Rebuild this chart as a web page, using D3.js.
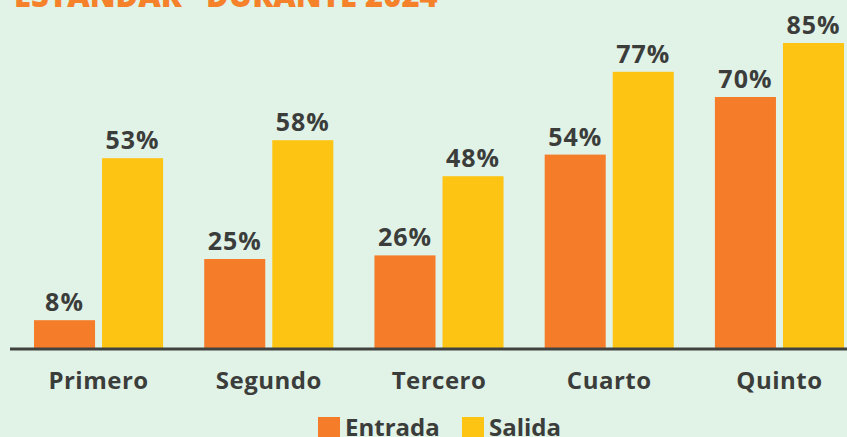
<!DOCTYPE html>
<html>
<head>
<meta charset="utf-8">
<script src="https://cdn.jsdelivr.net/npm/d3@7"></script>
<style>
  html, body { margin: 0; padding: 0; background: #E1F2E7; }
  svg { display: block; }
  text { font-family: "Open Sans", sans-serif; font-weight: 700; }
</style>
</head>
<body>
<svg id="chart" width="847" height="437"></svg>
<script>
const titleText = 'ESTÁNDAR" DURANTE 2024';
const categories = ["Primero", "Segundo", "Tercero", "Cuarto", "Quinto"];
const seriesNames = ["Entrada", "Salida"];
const entrada = [8, 25, 26, 54, 70];
const salida = [53, 58, 48, 77, 85];
const seriesColors = ["#F57C29", "#FDC414"];

const W = 847, H = 437;
const svg = d3.select("#chart");
svg.append("rect").attr("width", W).attr("height", H).attr("fill", "#E1F2E7");

const baseY = 349;
const x0 = d3.scaleBand().domain(categories).range([34, 844]).paddingInner(0.2417).paddingOuter(0);
const x1 = d3.scaleBand().domain(seriesNames).range([0, x0.bandwidth()]).paddingInner(0.103);
const y = d3.scaleLinear().domain([0, 100]).range([baseY, baseY - 360]);
const color = d3.scaleOrdinal().domain(seriesNames).range(seriesColors);

const rows = categories.map((c, i) => ({cat: c, vals: [
  {key: "Entrada", v: entrada[i]},
  {key: "Salida", v: salida[i]}
]}));

// title (clipped at top)
svg.append("text")
  .attr("x", 14).attr("y", 7)
  .attr("fill", "#F5822A")
  .style("font-size", "31px").style("font-weight", 800)
  .text(titleText);

const g = svg.selectAll("g.grp").data(rows).join("g")
  .attr("class", "grp")
  .attr("transform", d => `translate(${x0(d.cat)},0)`);

g.selectAll("rect").data(d => d.vals).join("rect")
  .attr("x", d => x1(d.key))
  .attr("width", x1.bandwidth())
  .attr("y", d => y(d.v))
  .attr("height", d => baseY - y(d.v))
  .attr("fill", d => color(d.key));

g.selectAll("text.val").data(d => d.vals).join("text")
  .attr("class", "val")
  .attr("x", d => x1(d.key) + x1.bandwidth() / 2)
  .attr("y", d => y(d.v) - 9)
  .attr("text-anchor", "middle")
  .attr("fill", "#3B3D3B")
  .style("font-size", "25px")
  .style("letter-spacing", "1px")
  .text(d => d.v + "%");

// axis line
const xAxis = d3.axisBottom(x0).tickSize(0).tickPadding(0);
const axG = svg.append("g").attr("transform", `translate(0,${baseY})`).call(xAxis);
axG.select(".domain").remove();
axG.append("line").attr("x1", 10).attr("x2", W).attr("y1", 0).attr("y2", 0)
  .attr("stroke", "#404240").attr("stroke-width", 3);
axG.selectAll(".tick text")
  .attr("y", 40).attr("dy", 0)
  .attr("fill", "#3B3D3B")
  .style("font-family", "'Open Sans', sans-serif")
  .style("font-weight", 700)
  .style("font-size", "24px")
  .style("letter-spacing", "0.5px");

// legend
const legendX = [318, 462];
const lg = svg.selectAll("g.leg").data(seriesNames).join("g")
  .attr("class", "leg")
  .attr("transform", (d, i) => `translate(${legendX[i]},417)`);
lg.append("rect").attr("width", 22).attr("height", 22).attr("fill", d => color(d));
lg.append("text").attr("x", 27).attr("y", 19)
  .attr("fill", "#3B3D3B")
  .style("font-size", "24px")
  .text(d => d);
</script>
</body>
</html>
